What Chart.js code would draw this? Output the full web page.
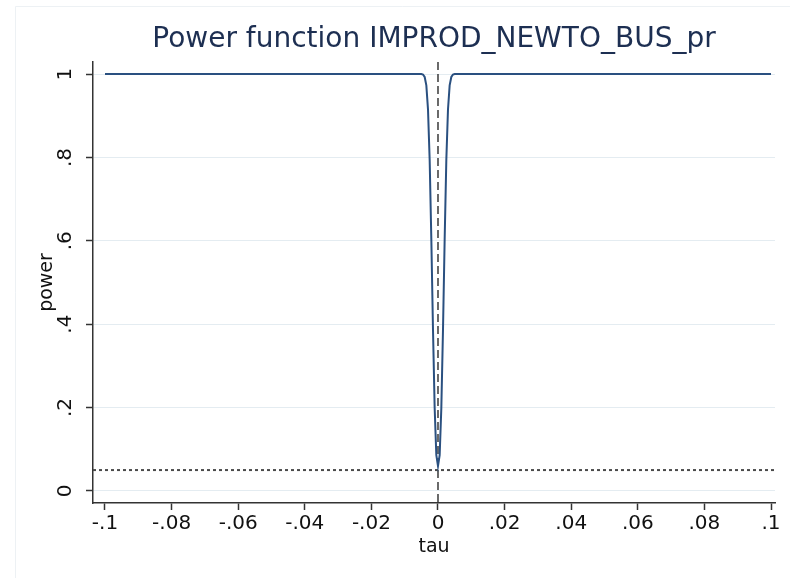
<!DOCTYPE html>
<html>
<head>
<meta charset="utf-8">
<script src="https://cdn.jsdelivr.net/npm/chart.js@4"></script>
<style>
  html, body { margin: 0; padding: 0; background: #ffffff; }
  #wrap { width: 790px; height: 578px; position: relative; }
</style>
</head>
<body>
<div id="wrap"><canvas id="c" width="790" height="578"></canvas></div>
<script>
// ---- data ----
const tau = [-0.1, -0.05, -0.01, -0.006, -0.005, -0.0045, -0.004, -0.0035, -0.003, -0.0025, -0.002, -0.0015, -0.001, -0.0005, 0,
             0.0005, 0.001, 0.0015, 0.002, 0.0025, 0.003, 0.0035, 0.004, 0.0045, 0.005, 0.006, 0.01, 0.05, 0.1];
const power = [1, 1, 1, 1, 1, 0.999, 0.993, 0.973, 0.915, 0.794, 0.603, 0.386, 0.199, 0.086, 0.06,
               0.086, 0.199, 0.386, 0.603, 0.794, 0.915, 0.973, 0.993, 0.999, 1, 1, 1, 1, 1];
const sizeLevel = 0.05;          // horizontal reference line
const nullTau = 0;               // vertical reference line
const xTicks = [-0.1, -0.08, -0.06, -0.04, -0.02, 0, 0.02, 0.04, 0.06, 0.08, 0.1];
const yTicks = [0, 0.2, 0.4, 0.6, 0.8, 1];
const xRange = [-0.1036, 0.1012];
const yRange = [-0.029, 1.029];
const titleText = 'Power function IMPROD_NEWTO_BUS_pr';
const xTitle = 'tau';
const yTitle = 'power';

function stataFmt(v) {
  if (Math.abs(v) < 1e-12) return '0';
  let s = String(+v.toFixed(4));
  s = s.replace(/^(-?)0\./, '$1.');
  return s;
}

const framePlugin = {
  id: 'frame',
  beforeDraw(chart) {
    const ctx = chart.ctx;
    ctx.save();
    ctx.fillStyle = '#ffffff';
    ctx.fillRect(0, 0, chart.width, chart.height);
    ctx.strokeStyle = '#edf1f4';
    ctx.lineWidth = 1;
    ctx.beginPath();
    ctx.moveTo(15.5, chart.height);
    ctx.lineTo(15.5, 6.5);
    ctx.lineTo(chart.width, 6.5);
    ctx.stroke();
    ctx.restore();
  }
};

const tickFont = { family: 'DejaVu Sans', size: 20 };
const titleFont = { family: 'DejaVu Sans', size: 19 };

new Chart(document.getElementById('c'), {
  type: 'line',
  data: {
    datasets: [
      {
        label: 'power',
        data: tau.map((t, i) => ({ x: t, y: power[i] })),
        borderColor: '#2a5080',
        borderWidth: 2,
        pointRadius: 0,
        tension: 0,
        fill: false,
        order: 1
      },
      {
        label: 'size',
        data: [{ x: xRange[0], y: sizeLevel }, { x: xRange[1], y: sizeLevel }],
        borderColor: '#4a4a4a',
        borderWidth: 2,
        borderDash: [3, 3],
        pointRadius: 0,
        fill: false,
        order: 2
      },
      {
        label: 'null',
        data: [{ x: nullTau, y: yRange[1] }, { x: nullTau, y: yRange[0] }],
        borderColor: '#3a3a3a',
        borderWidth: 1.5,
        borderDash: [8, 4],
        pointRadius: 0,
        fill: false,
        order: 3
      }
    ]
  },
  options: {
    responsive: false,
    animation: false,
    devicePixelRatio: 1,
    layout: { padding: { left: 0, right: 15, top: 0, bottom: 0 } },
    plugins: {
      legend: { display: false },
      tooltip: { enabled: false },
      title: {
        display: true,
        text: titleText,
        fullSize: false,
        color: '#1d2f52',
        font: { family: 'DejaVu Sans', size: 28, weight: 'normal', lineHeight: 1.2 },
        padding: { top: 23, bottom: 5.4 }
      }
    },
    scales: {
      x: {
        type: 'linear',
        min: xRange[0],
        max: xRange[1],
        afterBuildTicks(scale) { scale.ticks = xTicks.map(v => ({ value: v })); },
        afterFit(scale) { scale.height = 75; },
        ticks: {
          autoSkip: false,
          maxRotation: 0,
          minRotation: 0,
          padding: 2,
          color: '#111111',
          font: tickFont,
          callback: (v) => stataFmt(v)
        },
        grid: {
          display: true,
          drawOnChartArea: false,
          drawTicks: true,
          tickLength: 7,
          tickColor: '#333333',
          tickWidth: 1.5
        },
        border: { display: true, color: '#333333', width: 1.5 },
        title: {
          display: true,
          text: xTitle,
          color: '#111111',
          font: titleFont,
          padding: { top: 0, bottom: 20 }
        }
      },
      y: {
        type: 'linear',
        min: yRange[0],
        max: yRange[1],
        afterBuildTicks(scale) { scale.ticks = yTicks.map(v => ({ value: v })); },
        afterFit(scale) { scale.width = 93; },
        ticks: {
          autoSkip: false,
          minRotation: 90,
          maxRotation: 90,
          crossAlign: 'center',
          padding: 11,
          color: '#111111',
          font: tickFont,
          callback: (v) => stataFmt(v)
        },
        grid: {
          display: true,
          drawOnChartArea: true,
          color: '#e4ecf1',
          lineWidth: 1,
          drawTicks: true,
          tickLength: 7,
          tickColor: '#333333',
          tickWidth: 1.5
        },
        border: { display: true, color: '#333333', width: 1.5 },
        title: {
          display: true,
          text: yTitle,
          color: '#111111',
          font: titleFont,
          padding: { top: 36, bottom: 0 }
        }
      }
    }
  },
  plugins: [framePlugin]
});
</script>
</body>
</html>
